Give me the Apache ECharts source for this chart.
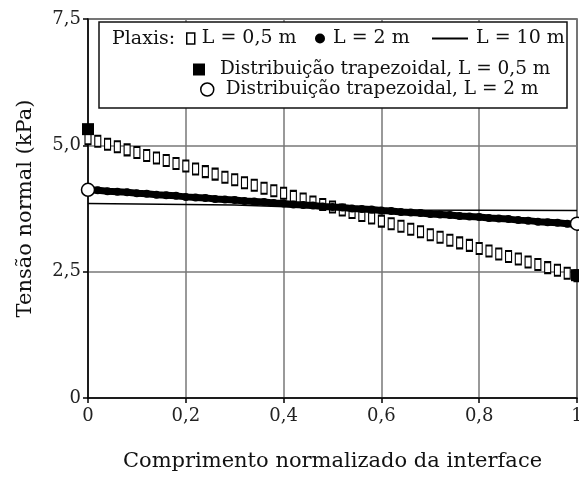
<!DOCTYPE html>
<html><head><meta charset="utf-8">
<script src="https://cdn.jsdelivr.net/npm/echarts@6/dist/echarts.min.js"></script>
<style>html,body{margin:0;padding:0;background:#fff}#c{width:579px;height:479px}</style>
</head><body><div id="c"></div>
<script>
var xTicks = [0, 0.2, 0.4, 0.6, 0.8, 1];
var yTicks = [0, 2.5, 5.0, 7.5];
var xPlaxis = [0,0.02,0.04,0.06,0.08,0.10,0.12,0.14,0.16,0.18,0.20,0.22,0.24,0.26,0.28,0.30,0.32,0.34,0.36,0.38,0.40,0.42,0.44,0.46,0.48,0.50,0.52,0.54,0.56,0.58,0.60,0.62,0.64,0.66,0.68,0.70,0.72,0.74,0.76,0.78,0.80,0.82,0.84,0.86,0.88,0.90,0.92,0.94,0.96,0.98,1.00];
var plaxisL05 = [5.13,5.08,5.02,4.97,4.91,4.86,4.80,4.75,4.70,4.64,4.59,4.53,4.48,4.43,4.37,4.32,4.26,4.21,4.15,4.10,4.05,3.99,3.94,3.88,3.83,3.78,3.72,3.67,3.61,3.56,3.50,3.45,3.40,3.34,3.29,3.23,3.18,3.12,3.07,3.02,2.96,2.91,2.85,2.80,2.75,2.69,2.64,2.58,2.53,2.47,2.42];
var plaxisL2 = [4.12,4.11,4.09,4.08,4.07,4.05,4.04,4.02,4.01,4.00,3.98,3.97,3.96,3.94,3.93,3.92,3.90,3.89,3.88,3.86,3.85,3.83,3.82,3.81,3.79,3.78,3.77,3.75,3.74,3.73,3.71,3.70,3.68,3.67,3.66,3.64,3.63,3.62,3.60,3.59,3.58,3.56,3.55,3.54,3.52,3.51,3.49,3.48,3.47,3.45,3.44];
var xL10 = [0, 0.3, 0.6, 1];
var plaxisL10 = [3.85, 3.82, 3.72, 3.71];
var xTrap = [0, 1];
var trapL05 = [5.32, 2.43];
var trapL2 = [4.12, 3.45];
var names = ['L = 0,5 m', 'L = 2 m', 'L = 10 m', 'Distribuição trapezoidal, L = 0,5 m', 'Distribuição trapezoidal, L = 2 m'];

function pairs(xs, ys){ return xs.map(function(x,i){ return [x, ys[i]]; }); }
var FONT = 'DejaVu Serif';
function fmt(v){ if (v === 0) return '0'; if (v === 1) return '1'; return v.toFixed(1).replace('.', ','); }

var chart = echarts.init(document.getElementById('c'), null, {renderer:'canvas'});
function leg(name, left, top, icon, w, h, style, pad, fs){
  return {show:true, left:left, top:top, padding:0, itemWidth:w, itemHeight:h, z:20,
    textStyle: {padding:[0,0,0,pad||0], fontFamily: FONT, fontSize: fs, color: '#111'}, selectedMode:false,
    data:[{name:name, icon:icon, itemStyle:style}]};
}
chart.setOption({
  animation:false,
  backgroundColor:'#fff',
  grid:{left:88, right:2, top:19, bottom:81, show:true, borderColor:'#444', borderWidth:1.5, outerBoundsMode:'none', containLabel:false},
  xAxis:{type:'value', min:xTicks[0], max:xTicks[xTicks.length-1], interval:0.2,
    name:'Comprimento normalizado da interface', nameLocation:'middle', nameGap:53,
    nameTextStyle:{fontFamily:FONT, fontSize:21, color:'#111'},
    axisLine:{lineStyle:{color:'#000', width:1.5}},
    axisTick:{length:5, lineStyle:{color:'#000', width:1.5}},
    axisLabel:{fontFamily:FONT, fontSize:18, color:'#222', margin:9, formatter:fmt},
    splitLine:{show:true, lineStyle:{color:'#777', width:1.5}}},
  yAxis:{type:'value', min:yTicks[0], max:yTicks[yTicks.length-1], interval:2.5,
    name:'Tensão normal (kPa)', nameLocation:'middle', nameGap:52,
    nameTextStyle:{fontFamily:FONT, fontSize:21, color:'#111'},
    axisLine:{show:true, lineStyle:{color:'#000', width:1.5}},
    axisTick:{show:true, length:5, lineStyle:{color:'#000', width:1.5}},
    axisLabel:{fontFamily:FONT, fontSize:18, color:'#222', margin:7, formatter:function(v){return v===0?'0':v.toFixed(1).replace('.',',');}},
    splitLine:{show:true, lineStyle:{color:'#777', width:1.5}}},
  graphic:[
    {type:'rect', z:10, shape:{x:99, y:22, width:468, height:86}, style:{fill:'#fff', stroke:'#111', lineWidth:1.5}},
    {type:'text', z:21, x:112, y:39, style:{text:'Plaxis:', fontFamily:FONT, fontSize:19, fill:'#111', verticalAlign:'middle'}}
  ],
  legend:[
    leg(names[0], 186, 29, 'rect', 8, 11, {color:'#fff', borderColor:'#000', borderWidth:1.5}, 2, 19),
    leg(names[1], 315, 29, 'circle', 10, 10, {color:'#000'}, 3, 19),
    leg(names[2], 432, 29, 'rect', 36, 2, {color:'#000'}, 3, 19),
    leg(names[3], 193, 60, 'rect', 12, 12, {color:'#000'}, 10, 18.5),
    leg(names[4], 200, 80, 'circle', 13, 13, {color:'#fff', borderColor:'#000', borderWidth:1.5}, 7, 18.5)
  ],
  series:[
    {name:names[2], type:'line', data:pairs(xL10, plaxisL10), symbol:'none', z:2,
      lineStyle:{color:'#000', width:1.5}, itemStyle:{color:'#000'}},
    {name:names[0], type:'scatter', data:pairs(xPlaxis, plaxisL05), symbol:'rect', symbolSize:[6,11], z:3,
      itemStyle:{color:'#fff', borderColor:'#000', borderWidth:1.5, opacity:1}},
    {name:names[1], type:'line', data:pairs(xPlaxis, plaxisL2), symbol:'circle', symbolSize:8, showSymbol:true, z:4,
      lineStyle:{color:'#000', width:7}, itemStyle:{color:'#000'}},
    {name:names[3], type:'scatter', data:pairs(xTrap, trapL05), symbol:'rect', symbolSize:12, z:5,
      itemStyle:{color:'#000', opacity:1}},
    {name:names[4], type:'scatter', data:pairs(xTrap, trapL2), symbol:'circle', symbolSize:13, z:6,
      itemStyle:{color:'#fff', borderColor:'#000', borderWidth:1.5, opacity:1}}
  ]
});
</script></body></html>
